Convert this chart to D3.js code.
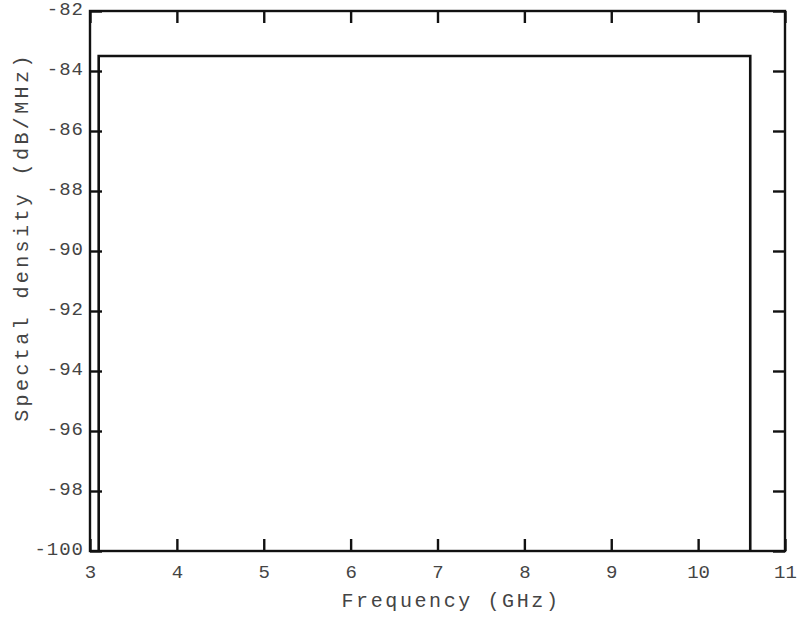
<!DOCTYPE html>
<html>
<head>
<meta charset="utf-8">
<script src="https://cdn.jsdelivr.net/npm/d3@7"></script>
<style>
  html, body { margin: 0; padding: 0; background: #fff; }
  svg text { font-family: "Liberation Mono", "DejaVu Sans Mono", monospace; fill: #444; }
</style>
</head>
<body>
<svg id="chart" width="804" height="618"></svg>
<script>
// 频谱密度掩模：一个矩形轮廓
const FREQ = [3.1, 3.1, 10.6, 10.6];          // GHz
const DENSITY = [-100, -83.5, -83.5, -100];   // dB/MHz
const X_TICKS = [3, 4, 5, 6, 7, 8, 9, 10, 11];
const Y_TICKS = [-100, -98, -96, -94, -92, -90, -88, -86, -84, -82];

const svg = d3.select("#chart");
const M = { left: 90, right: 785, top: 11, bottom: 551 };

const x = d3.scaleLinear().domain([3, 11]).range([M.left, M.right]);
const y = d3.scaleLinear().domain([-100, -82]).range([M.bottom, M.top]);
const TL = 12;

// 坐标框
svg.append("rect")
  .attr("x", M.left).attr("y", M.top)
  .attr("width", M.right - M.left).attr("height", M.bottom - M.top)
  .attr("fill", "none").attr("stroke", "#111").attr("stroke-width", 2.4);

// 刻度（朝内）
const axisStyle = (g) => {
  g.select(".domain").remove();
  g.selectAll(".tick line").attr("stroke", "#111").attr("stroke-width", 2.4);
  g.selectAll(".tick text").attr("font-size", 19);
};

svg.append("g").attr("transform", `translate(0,${M.bottom})`)
  .call(d3.axisBottom(x).tickValues(X_TICKS).tickSize(-TL).tickFormat(d3.format("d")))
  .call(axisStyle)
  .selectAll(".tick text").attr("dy", "0.71em").attr("y", 14);

svg.append("g").attr("transform", `translate(0,${M.top})`)
  .call(d3.axisTop(x).tickValues(X_TICKS).tickSize(-TL).tickFormat(""))
  .call(axisStyle);

svg.append("g").attr("transform", `translate(${M.left},0)`)
  .call(d3.axisLeft(y).tickValues(Y_TICKS).tickSize(-TL).tickFormat(d => d3.format("d")(d).replace("−", "-")))
  .call(axisStyle)
  .selectAll(".tick text").attr("x", -6).attr("dy", "0.2em").attr("letter-spacing", 1);

svg.append("g").attr("transform", `translate(${M.right},0)`)
  .call(d3.axisRight(y).tickValues(Y_TICKS).tickSize(-TL).tickFormat(""))
  .call(axisStyle);

// 掩模轮廓
const line = d3.line().x((d, i) => x(FREQ[i])).y(d => y(d));
svg.append("path")
  .datum(DENSITY)
  .attr("d", line)
  .attr("fill", "none").attr("stroke", "#111").attr("stroke-width", 2.6);

// 轴标题
svg.append("text")
  .attr("x", 451).attr("y", 607)
  .attr("text-anchor", "middle").attr("font-size", 20).attr("letter-spacing", 2.6)
  .text("Frequency (GHz)");

svg.append("text")
  .attr("transform", `translate(28,237) rotate(-90)`)
  .attr("text-anchor", "middle").attr("font-size", 20).attr("letter-spacing", 3.4)
  .text("Spectal density (dB/MHz)");
</script>
</body>
</html>
